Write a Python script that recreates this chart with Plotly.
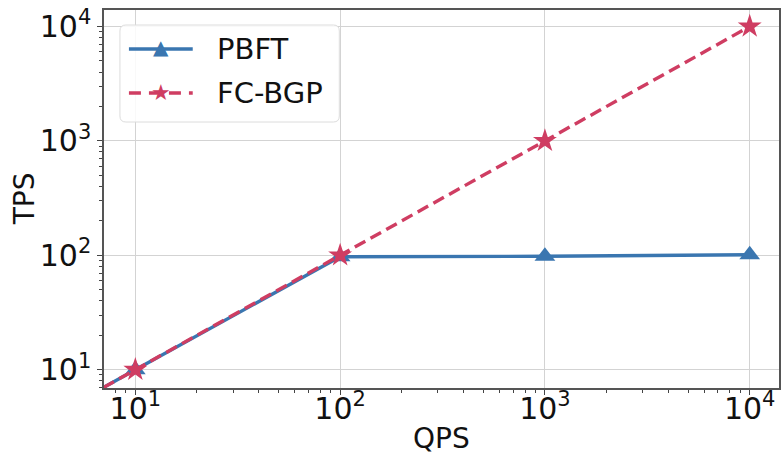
import plotly.graph_objects as go

qps = [1, 10, 100, 1000, 10000]
pbft_tps = [1, 10, 97, 98, 101]
fcbgp_tps = [1, 10, 100, 1000, 10000]
series_names = ["PBFT", "FC-BGP"]
tick_vals = [10, 100, 1000, 10000]
tick_text = ["10<sup>1</sup>", "10<sup>2</sup>", "10<sup>3</sup>", "10<sup>4</sup>"]

BLUE = "#3a76b0"
RED = "#cf3d62"
FONT = "DejaVu Sans"

W, H = 781, 455
ML, MR, MT, MB = 104, 0, 10, 67
PW, PH = W - ML - MR, H - MT - MB


def px_x(px):
    return (px - ML) / PW


def px_y(py):
    return 1 - (py - MT) / PH


minor_vals = [m * 10 ** e for e in range(0, 5) for m in range(2, 10)]

fig = go.Figure()
fig.add_trace(go.Scatter(
    x=qps, y=pbft_tps, name=series_names[0], mode="lines+markers",
    line=dict(color=BLUE, width=3.4),
    marker=dict(symbol="triangle-up", size=18, color=BLUE),
    showlegend=False,
))
fig.add_trace(go.Scatter(
    x=qps, y=fcbgp_tps, name=series_names[1], mode="lines+markers",
    line=dict(color=RED, width=3.4, dash="12px,6px"),
    marker=dict(symbol="star", size=18, color=RED),
    showlegend=False,
))

axis_common = dict(
    type="log",
    tickmode="array",
    tickvals=tick_vals,
    ticktext=tick_text,
    ticks="outside",
    ticklen=5,
    tickwidth=1,
    tickcolor="#444",
    showline=True,
    linecolor="#555",
    linewidth=1.5,
    mirror=True,
    showgrid=True,
    gridcolor="#d3d3d3",
    gridwidth=1.2,
    zeroline=False,
    tickfont=dict(family=FONT, size=30, color="#111"),
    minor=dict(tickmode="array", tickvals=minor_vals, ticks="outside",
               ticklen=3, tickwidth=0.8, tickcolor="#444", showgrid=False),
)

fig.update_xaxes(**axis_common, range=[0.847, 4.143], ticklabelstandoff=-12)
fig.update_yaxes(**axis_common, range=[0.84, 4.144])

# Axis titles
annotations = [
    dict(text="QPS", x=(442 - ML) / PW, y=px_y(438), xref="paper", yref="paper",
         showarrow=False, xanchor="center", yanchor="middle",
         font=dict(family=FONT, size=28, color="#111")),
    dict(text="TPS", x=px_x(24), y=px_y(199), xref="paper", yref="paper",
         showarrow=False, xanchor="center", yanchor="middle", textangle=-90,
         font=dict(family=FONT, size=28, color="#111")),
]

# Manual legend (matplotlib-style rounded box)
bx0, bx1, by0, by1, r = 120, 340, 25, 122, 6
path = (
    f"M {px_x(bx0 + r)},{px_y(by0)} L {px_x(bx1 - r)},{px_y(by0)} "
    f"Q {px_x(bx1)},{px_y(by0)} {px_x(bx1)},{px_y(by0 + r)} "
    f"L {px_x(bx1)},{px_y(by1 - r)} "
    f"Q {px_x(bx1)},{px_y(by1)} {px_x(bx1 - r)},{px_y(by1)} "
    f"L {px_x(bx0 + r)},{px_y(by1)} "
    f"Q {px_x(bx0)},{px_y(by1)} {px_x(bx0)},{px_y(by1 - r)} "
    f"L {px_x(bx0)},{px_y(by0 + r)} "
    f"Q {px_x(bx0)},{px_y(by0)} {px_x(bx0 + r)},{px_y(by0)} Z"
)
shapes = [
    dict(type="path", path=path, xref="paper", yref="paper",
         fillcolor="rgba(255,255,255,0.85)", line=dict(color="#dcdcdc", width=1), layer="above"),
    dict(type="line", xref="paper", yref="paper", x0=px_x(129), x1=px_x(193),
         y0=px_y(49), y1=px_y(49), line=dict(color=BLUE, width=3.4), layer="above"),
    dict(type="line", xref="paper", yref="paper", x0=px_x(129), x1=px_x(193),
         y0=px_y(93), y1=px_y(93), line=dict(color=RED, width=3.4, dash="12px,8px"), layer="above"),
]
annotations += [
    dict(text="▲", x=px_x(161), y=px_y(47), xref="paper", yref="paper", showarrow=False,
         xanchor="center", yanchor="middle", font=dict(family=FONT, size=20, color=BLUE)),
    dict(text="★", x=px_x(161), y=px_y(92), xref="paper", yref="paper", showarrow=False,
         xanchor="center", yanchor="middle", font=dict(family=FONT, size=22, color=RED)),
    dict(text=series_names[0], x=px_x(215), y=px_y(49), xref="paper", yref="paper", showarrow=False,
         xanchor="left", yanchor="middle", font=dict(family=FONT, size=29, color="#111")),
    dict(text=series_names[1], x=px_x(215), y=px_y(93), xref="paper", yref="paper", showarrow=False,
         xanchor="left", yanchor="middle", font=dict(family=FONT, size=29, color="#111")),
]

fig.update_layout(
    width=W, height=H,
    margin=dict(l=ML, r=MR, t=MT, b=MB),
    paper_bgcolor="white",
    plot_bgcolor="white",
    showlegend=False,
    shapes=shapes,
    annotations=annotations,
)

fig.write_html("out.html")
